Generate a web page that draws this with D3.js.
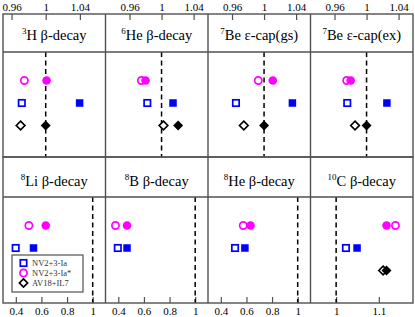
<!DOCTYPE html>
<html lang="en">
  <head>
    <meta charset="utf-8">
    <title>Beta decay and electron capture ratios</title>
    <script src="https://d3js.org/d3.v7.min.js"></script>
    <style>
      body { margin: 0; background: #fff; }
      svg text { font-family: "Liberation Serif", "DejaVu Serif", serif; }
    </style>
  </head>
  <body>
    <div id="chart"></div>
    <script>
      var w = 415;
      var h = 317;

      // panel titles: mass number + rest of the label
      var massNums = ["3", "6", "7", "7", "8", "8", "8", "10"];
      var titles = ["H \u03b2-decay", "He \u03b2-decay", "Be \u03b5-cap(gs)", "Be \u03b5-cap(ex)",
                    "Li \u03b2-decay", "B \u03b2-decay", "He \u03b2-decay", "C \u03b2-decay"];

      // x ranges and ticks per panel
      var domLo = [0.95, 0.93, 0.93, 0.93, 0.3, 0.3, 0.3, 0.94];
      var domHi = [1.07, 1.058, 1.058, 1.058, 1.1, 1.1, 1.1, 1.18];
      var tickVals = [
        [0.96, 1, 1.04], [0.96, 1, 1.04], [0.96, 1, 1.04], [0.96, 1, 1.04],
        [0.4, 0.6, 0.8, 1], [0.4, 0.6, 0.8, 1], [0.4, 0.6, 0.8, 1], [1, 1.1]
      ];

      // values (open = first model, filled = second)
      var circOpen  = [0.975, 0.9748, 0.9928, 0.9752, 0.502, 0.378, 0.575, 1.139];
      var circFull  = [1.001, 0.980, 1.0109, 0.9802, 0.634, 0.468, 0.632, 1.118];
      var sqOpen    = [0.972, 0.9822, 0.9649, 0.9759, 0.399, 0.396, 0.511, 1.023];
      var sqFull    = [1.0397, 1.0143, 1.0354, 1.0254, 0.538, 0.468, 0.588, 1.049];
      var diaOpen   = [0.9706, 1.0024, 0.9747, 0.9856, null, null, null, 1.110];
      var diaFull   = [1.000, 1.0207, 1.000, 1.000, null, null, null, 1.118];

      var legendNames = ["NV2+3-Ia", "NV2+3-Ia*", "AV18+IL7"];

      var blue = "#0000ff", magenta = "#ff00ff", frame = "#505050";

      var left = 3, right = 413;
      var pw = (right - left) / 4;
      var rows = [
        { top: 14, sep: 52, bottom: 157 },
        { top: 157, sep: 197, bottom: 303 }
      ];

      var svg = d3.select("#chart").append("svg")
        .attr("width", w).attr("height", h);

      var markY = d3.scalePoint().domain(["circ", "sq", "dia"]).range([28.5, 73.5]);

      function symbol(g, type, cx, cy, color, filled, s) {
        s = s || 1;
        if (type === "sq") {
          var a = filled ? 7.5 : 6.4;
          g.append("rect").attr("x", cx - a * s / 2).attr("y", cy - a * s / 2)
            .attr("width", a * s).attr("height", a * s)
            .attr("fill", filled ? color : "#fff").attr("stroke", color)
            .attr("stroke-width", filled ? 0 : 1.7);
        } else if (type === "circ") {
          g.append("circle").attr("cx", cx).attr("cy", cy).attr("r", (filled ? 4.3 : 3.6) * s)
            .attr("fill", filled ? color : "#fff").attr("stroke", color)
            .attr("stroke-width", filled ? 0 : 1.7);
        } else {
          var d = (filled ? 5 : 4.3) * s;
          g.append("path")
            .attr("d", "M" + cx + "," + (cy - d) + "L" + (cx + d) + "," + cy + "L" + cx + "," + (cy + d) + "L" + (cx - d) + "," + cy + "Z")
            .attr("fill", filled ? color : "#fff").attr("stroke", color)
            .attr("stroke-width", filled ? 0 : 1.7);
        }
      }

      for (var i = 0; i < 8; i++) {
        var r = rows[Math.floor(i / 4)];
        var isTop = i < 4;
        var x0 = left + (i % 4) * pw;
        var x = d3.scaleLinear().domain([domLo[i], domHi[i]]).range([x0, x0 + pw]);
        var g = svg.append("g");

        // axis
        var axis = (isTop ? d3.axisTop(x) : d3.axisBottom(x))
          .tickValues(tickVals[i]).tickFormat(d3.format("")).tickSize(-6).tickPadding(isTop ? 3 : 4);
        var ax = g.append("g")
          .attr("transform", "translate(0," + (isTop ? r.top : r.bottom) + ")")
          .call(axis);
        ax.select(".domain").remove();
        ax.selectAll("line").attr("stroke", frame).attr("stroke-width", 1.2);
        ax.selectAll("text").attr("font-size", 11).attr("fill", "#000")
          .attr("font-family", "'Liberation Serif', serif");

        // dashed line at 1
        g.append("line").attr("x1", x(1)).attr("x2", x(1))
          .attr("y1", r.sep).attr("y2", r.bottom)
          .attr("stroke", "#000").attr("stroke-width", 1.5)
          .attr("stroke-dasharray", "5,3.5");

        // title
        var t = g.append("text").attr("x", x0 + pw / 2).attr("y", r.top + (isTop ? 26 : 29))
          .attr("text-anchor", "middle").attr("font-size", 14.5);
        t.append("tspan").attr("font-size", 9).attr("dy", -6).text(massNums[i]);
        t.append("tspan").attr("dy", 6).text(titles[i]);

        // markers
        var yb = r.sep;
        symbol(g, "circ", x(circOpen[i]), yb + markY("circ"), magenta, false);
        symbol(g, "circ", x(circFull[i]), yb + markY("circ"), magenta, true);
        symbol(g, "sq", x(sqOpen[i]), yb + markY("sq"), blue, false);
        symbol(g, "sq", x(sqFull[i]), yb + markY("sq"), blue, true);
        if (diaOpen[i] != null) symbol(g, "dia", x(diaOpen[i]), yb + markY("dia"), "#000", false);
        if (diaFull[i] != null) symbol(g, "dia", x(diaFull[i]), yb + markY("dia"), "#000", true);
      }

      // frames
      rows.forEach(function(r) {
        svg.append("rect").attr("x", left).attr("y", r.top)
          .attr("width", right - left).attr("height", r.bottom - r.top)
          .attr("fill", "none").attr("stroke", frame).attr("stroke-width", 1.4);
        svg.append("line").attr("x1", left).attr("x2", right).attr("y1", r.sep).attr("y2", r.sep)
          .attr("stroke", frame).attr("stroke-width", 1.4);
        for (var k = 1; k < 4; k++) {
          svg.append("line").attr("x1", left + k * pw).attr("x2", left + k * pw)
            .attr("y1", r.top).attr("y2", r.bottom)
            .attr("stroke", frame).attr("stroke-width", 1.4);
        }
      });

      // legend
      var lg = svg.append("g");
      lg.append("rect").attr("x", 12).attr("y", 255).attr("width", 71).attr("height", 37)
        .attr("fill", "#fff").attr("stroke", frame).attr("stroke-width", 1.2);
      var legTypes = ["sq", "circ", "dia"];
      var legColors = [blue, magenta, "#000"];
      var ly = d3.scalePoint().domain(legendNames).range([263, 283]);
      legendNames.forEach(function(n, k) {
        symbol(lg, legTypes[k], 23.5, ly(n), legColors[k], false, k === 2 ? 0.95 : 1);
        lg.append("text").attr("x", 32).attr("y", ly(n) + 3)
          .attr("font-size", 8.5).attr("fill", "#333").text(n);
      });
    </script>
  </body>
</html>
